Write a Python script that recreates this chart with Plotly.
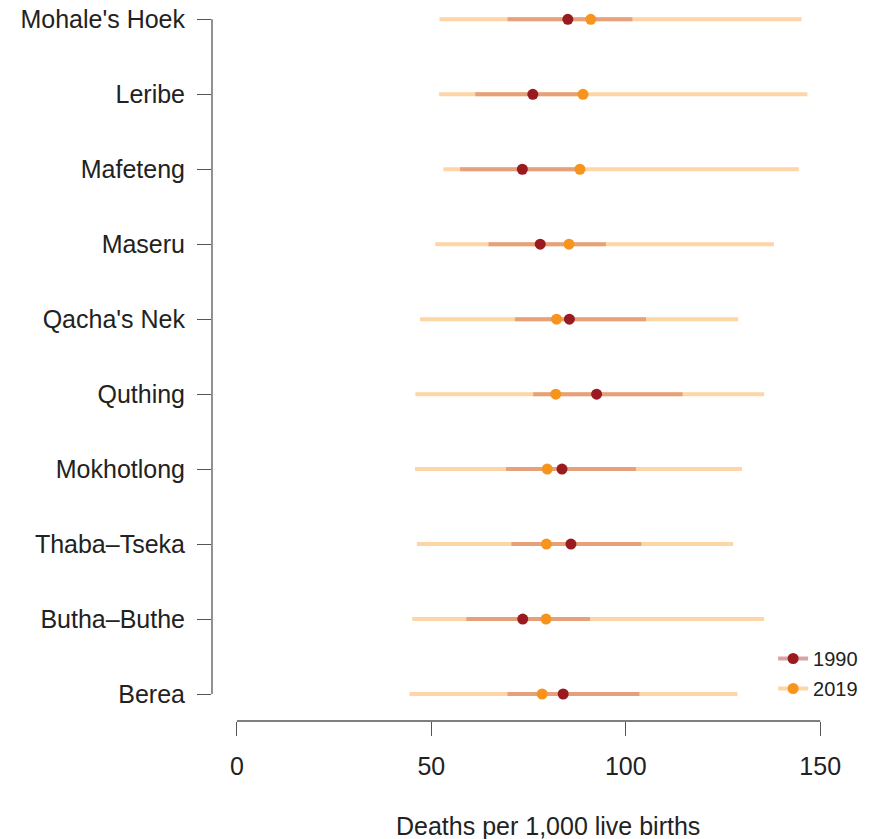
import plotly.graph_objects as go

districts = ["Mohale's Hoek", "Leribe", "Mafeteng", "Maseru", "Qacha's Nek",
             "Quthing", "Mokhotlong", "Thaba\u2013Tseka", "Butha\u2013Buthe", "Berea"]
val_1990 = [85.1, 76.1, 73.4, 78.0, 85.5, 92.5, 83.6, 85.9, 73.5, 83.9]
lo_1990 = [69.6, 61.3, 57.4, 64.7, 71.5, 76.2, 69.2, 70.6, 59.0, 69.6]
hi_1990 = [101.7, 89.5, 88.0, 94.9, 105.2, 114.6, 102.6, 104.0, 90.8, 103.5]
val_2019 = [91.0, 89.0, 88.2, 85.4, 82.2, 82.0, 79.8, 79.6, 79.5, 78.5]
lo_2019 = [52.1, 52.0, 53.1, 51.0, 47.1, 45.9, 45.8, 46.3, 45.1, 44.4]
hi_2019 = [145.2, 146.7, 144.5, 138.1, 128.9, 135.6, 129.9, 127.6, 135.6, 128.7]
years = ["1990", "2019"]
x_ticks = [0, 50, 100, 150]
x_title = "Deaths per 1,000 live births"

n = len(districts)
pos = [n - i for i in range(n)]  # top row = n, bottom = 1

C_1990_PT = "#9A1B1F"
C_2019_PT = "#F7941D"
C_1990_CI = "#E6A17B"
C_2019_CI = "#FDD5A6"
C_1990_LEG = "#D7A4A6"
FONT = "Liberation Sans"
TXT = "#222222"
AX = "#555555"


def segs(lo, hi):
    xs, ys = [], []
    for a, b, p in zip(lo, hi, pos):
        xs += [a, b, None]
        ys += [p, p, None]
    return xs, ys


fig = go.Figure()
x19, y19 = segs(lo_2019, hi_2019)
fig.add_trace(go.Scatter(x=x19, y=y19, mode="lines", showlegend=False,
                         line=dict(color=C_2019_CI, width=4), hoverinfo="skip"))
x90, y90 = segs(lo_1990, hi_1990)
fig.add_trace(go.Scatter(x=x90, y=y90, mode="lines", showlegend=False,
                         line=dict(color=C_1990_CI, width=4), hoverinfo="skip"))
fig.add_trace(go.Scatter(x=val_2019, y=pos, mode="markers", showlegend=False,
                         marker=dict(color=C_2019_PT, size=11)))
fig.add_trace(go.Scatter(x=val_1990, y=pos, mode="markers", showlegend=False,
                         marker=dict(color=C_1990_PT, size=11)))

# legend entries
fig.add_trace(go.Scatter(x=[None], y=[None], mode="lines+markers", name=years[0],
                         legendgroup="a", line=dict(color=C_1990_LEG, width=4),
                         marker=dict(color=C_1990_PT, size=11)))
fig.add_trace(go.Scatter(x=[None], y=[None], mode="lines+markers", name=years[1],
                         legendgroup="b", line=dict(color=C_2019_CI, width=4),
                         marker=dict(color=C_2019_PT, size=11)))

fig.update_layout(
    width=876, height=831,
    margin=dict(l=204, r=0, t=0, b=118, autoexpand=False),
    plot_bgcolor="white", paper_bgcolor="white",
    font=dict(family=FONT, size=25, color=TXT),
    showlegend=True,
    legend=dict(x=0.835, y=0.115, xanchor="left", yanchor="top",
                bgcolor="rgba(0,0,0,0)", tracegroupgap=1,
                font=dict(size=20, color=TXT)),
    xaxis=dict(range=[-6.4, 166.4], tickvals=x_ticks, ticks="outside",
               ticklen=14, tickcolor=AX, tickwidth=1.3, automargin=False,
               showgrid=False, zeroline=False, showline=False,
               ticklabelstandoff=9, ticklabeloverflow="allow", fixedrange=True),
    yaxis=dict(range=[0.64, 10.151], tickvals=pos, ticktext=districts,
               ticks="outside", ticklen=14, tickcolor=AX, tickwidth=1.3,
               automargin=False,
               showgrid=False, zeroline=False, showline=False,
               ticklabelstandoff=7, ticklabeloverflow="allow", fixedrange=True),
    shapes=[
        dict(type="line", xref="x", yref="paper", x0=x_ticks[0], x1=x_ticks[-1],
             y0=0, y1=0, line=dict(color=AX, width=1.3)),
        dict(type="line", xref="paper", yref="y", x0=0, x1=0,
             y0=min(pos), y1=max(pos), line=dict(color=AX, width=1.3)),
    ],
    annotations=[
        dict(text=x_title, xref="paper", yref="paper", x=0.5, y=-0.1477,
             xanchor="center", yanchor="middle", showarrow=False,
             font=dict(size=25, color=TXT)),
    ],
)

fig.write_html("out.html")
